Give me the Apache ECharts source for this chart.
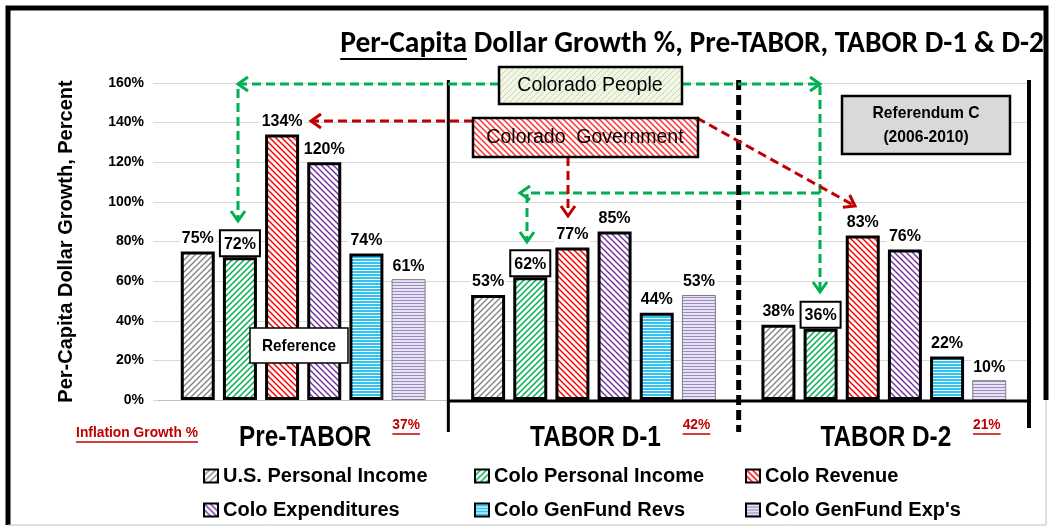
<!DOCTYPE html>
<html>
<head>
<meta charset="utf-8">
<script src="https://cdn.jsdelivr.net/npm/echarts@6/dist/echarts.min.js"></script>
<style>
  html, body { margin: 0; padding: 0; background: #fff; }
  #chart { width: 1053px; height: 527px; }
</style>
</head>
<body>
<div id="chart"></div>
<script>
// data
const categories = ['Pre-TABOR', 'TABOR D-1', 'TABOR D-2'];
const seriesNames = ['U.S. Personal Income', 'Colo Personal Income', 'Colo Revenue',
                     'Colo Expenditures', 'Colo GenFund Revs', "Colo GenFund Exp's"];
const usPersonalIncome   = [75, 53, 38];
const coloPersonalIncome = [72, 62, 36];
const coloRevenue        = [134, 77, 83];
const coloExpenditures   = [120, 85, 76];
const coloGenFundRevs    = [74, 44, 22];
const coloGenFundExps    = [61, 53, 10];
const inflationGrowth    = ['37%', '42%', '21%'];
const yMin = 0, yMax = 160, yStep = 20;

const SANS = "'Liberation Sans', Arial, sans-serif";
const TITLE_FONT = "Carlito, 'Liberation Sans', sans-serif";

// hatch fills
function makePattern(kind, fg, bg, lw) {
  const s = 6;
  const c = document.createElement('canvas');
  c.width = s; c.height = s;
  const ctx = c.getContext('2d');
  ctx.fillStyle = bg;
  ctx.fillRect(0, 0, s, s);
  ctx.strokeStyle = fg;
  ctx.fillStyle = fg;
  ctx.lineWidth = lw;
  ctx.beginPath();
  if (kind === 'fwd') {
    ctx.moveTo(0, s); ctx.lineTo(s, 0);
    ctx.moveTo(-1, 1); ctx.lineTo(1, -1);
    ctx.moveTo(s - 1, s + 1); ctx.lineTo(s + 1, s - 1);
    ctx.stroke();
  } else if (kind === 'back') {
    ctx.moveTo(0, 0); ctx.lineTo(s, s);
    ctx.moveTo(-1, s - 1); ctx.lineTo(1, s + 1);
    ctx.moveTo(s - 1, -1); ctx.lineTo(s + 1, 1);
    ctx.stroke();
  } else if (kind === 'horiz') {
    ctx.fillRect(0, 0, s, lw);
    ctx.fillRect(0, 3, s, lw);
  }
  return { image: c, repeat: 'repeat' };
}

const fills = [
  makePattern('fwd', '#7f7f7f', '#ffffff', 1.3),
  makePattern('fwd', '#00b050', '#ffffff', 1.5),
  makePattern('back', '#ff0000', '#ffffff', 1.5),
  makePattern('back', '#7030a0', '#ffffff', 1.4),
  makePattern('horiz', '#ffffff', '#2ec4f3', 1),
  makePattern('horiz', '#9c88c4', '#e9e4f1', 1)
];
const seriesData = [usPersonalIncome, coloPersonalIncome, coloRevenue,
                    coloExpenditures, coloGenFundRevs, coloGenFundExps];

const chart = echarts.init(document.getElementById('chart'));

const baseLabel = {
  show: true,
  position: 'top',
  distance: 4,
  formatter: '{c}%',
  fontFamily: SANS,
  fontWeight: 'bold',
  fontSize: 16,
  color: '#000',
  backgroundColor: '#fff',
  padding: [1, 2]
};

const series = seriesNames.map((name, i) => ({
  name: name,
  type: 'bar',
  data: seriesData[i],
  barWidth: 34,
  barGap: '24%',
  itemStyle: {
    color: fills[i],
    borderColor: i === 5 ? '#7f7f7f' : '#000',
    borderWidth: i === 5 ? 1 : 3
  },
  label: i === 1
    ? Object.assign({}, baseLabel, { borderColor: '#000', borderWidth: 2, padding: [5, 3, 3, 3], distance: 2 })
    : baseLabel,
  emphasis: { disabled: true }
}));

chart.setOption({
  animation: false,
  grid: { left: 158, right: 24, top: 83, bottom: 127 },
  xAxis: {
    type: 'category',
    data: categories,
    axisLine: { lineStyle: { color: '#bfbfbf', width: 1 } },
    axisTick: { show: false },
    axisLabel: { show: false }
  },
  yAxis: {
    type: 'value',
    min: yMin, max: yMax, interval: yStep,
    name: 'Per-Capita Dollar Growth, Percent',
    nameLocation: 'middle',
    nameGap: 82,
    nameRotate: 90,
    nameTextStyle: { fontFamily: SANS, fontWeight: 'bold', fontSize: 20, color: '#000' },
    axisLine: { show: false },
    axisTick: { show: true, length: 5, lineStyle: { color: '#d9d9d9' } },
    splitLine: { lineStyle: { color: '#d9d9d9', width: 1 } },
    axisLabel: { formatter: '{value}%', fontFamily: SANS, fontWeight: 'bold', fontSize: 14, color: '#000', margin: 14 }
  },
  legend: {
    data: seriesNames,
    left: 198, top: 460, width: 830,
    icon: 'rect',
    itemWidth: 14, itemHeight: 13, itemGap: 12,
    itemStyle: { borderColor: '#000', borderWidth: 2 },
    textStyle: { fontFamily: SANS, fontWeight: 'bold', fontSize: 20, color: '#000', width: 239, lineHeight: 22 },
    selectedMode: false
  },
  series: series
});

// annotations, placed from the axes where they belong to them
const measure = document.createElement('canvas').getContext('2d');
function textWidth(text, font) { measure.font = font; return measure.measureText(text).width; }

const cx = categories.map(c => chart.convertToPixel({ xAxisIndex: 0 }, c));
const half = (cx[1] - cx[0]) / 2;
const y0 = chart.convertToPixel({ yAxisIndex: 0 }, 0);
const yTop = chart.convertToPixel({ yAxisIndex: 0 }, yMax);
const sep1 = cx[0] + half, sep2 = cx[1] + half, sep3 = cx[2] + half;

const green = '#00b050', red = '#c00000';
function line(points, color, width, dash, z) {
  return { type: 'polyline', z: z || 50, shape: { points: points },
           style: { stroke: color, lineWidth: width, lineDash: dash || null, fill: null } };
}
function arrowHead(tip, from, color) {
  const dx = tip[0] - from[0], dy = tip[1] - from[1];
  const len = Math.sqrt(dx * dx + dy * dy);
  const ux = dx / len, uy = dy / len;
  const px = -uy, py = ux;
  return line([[tip[0] - 10 * ux + 7 * px, tip[1] - 10 * uy + 7 * py], tip,
               [tip[0] - 10 * ux - 7 * px, tip[1] - 10 * uy - 7 * py]], color, 3, null, 60);
}
function dashedArrow(from, tip, color) {
  return [line([from, tip], color, 3, [9, 5]), arrowHead(tip, from, color)];
}
function box(x, y, w, h, fill, bw) {
  return { type: 'rect', z: 70, shape: { x: x, y: y, width: w, height: h },
           style: { fill: fill, stroke: '#000', lineWidth: bw } };
}
function label(x, y, text, size, weight, family, color, align, sx) {
  return { type: 'text', z: 80, x: x, y: y, scaleX: sx || 1,
           style: { text: text, fontSize: size, fontWeight: weight, fontFamily: family,
                    fill: color || '#000', align: align || 'center', verticalAlign: 'middle', lineHeight: 24 } };
}

const titleText = 'Per-Capita Dollar Growth %, Pre-TABOR, TABOR D-1 & D-2';
const titleFont = 'bold 29.5px ' + TITLE_FONT;
const titleRight = 1044;
const titleLeft = titleRight - textWidth(titleText, titleFont);
const titleUnder = textWidth('Per-Capita', titleFont);

const infFont = 'bold 15px ' + SANS;
const infScale = 0.92;
const infW = textWidth('Inflation Growth %', infFont) * infScale;

const peopleFill = makePattern('fwd', '#c8dca0', '#f2f6e8', 1);
const govFill = makePattern('back', '#ff3030', '#ffffff', 1.5);

let g = [];
// outer frame
g.push(line([[8, 525], [8, 8], [1046, 8], [1046, 400]], '#000', 5, null, 40));
g.push(line([[1046, 400], [1046, 525], [8, 525]], '#bfbfbf', 1, null, 40));
// period separators and base line
g.push(line([[sep1, yTop - 3], [sep1, y0 + 32]], '#000', 3));
g.push(line([[sep2, yTop - 3], [sep2, y0 + 32]], '#000', 5, [10, 5]));
g.push(line([[sep3, yTop - 3], [sep3, y0 + 28]], '#000', 4));
g.push(line([[sep1, y0 + 1], [sep3, y0 + 1]], '#000', 3));
// period names under the axis
categories.forEach((c, i) => {
  g.push(label(cx[i] + 2, y0 + 38, c, 29, 'bold', SANS, '#000', 'center', 0.84));
});
// title
g.push(label(titleRight, 45, titleText, 29.5, 'bold', TITLE_FONT, '#000', 'right'));
g.push(line([[titleLeft, 59], [titleLeft + titleUnder, 59]], '#000', 2));
// inflation growth labels
g.push(label(137, 433, 'Inflation Growth %', 15, 'bold', SANS, red, 'center', infScale));
g.push(line([[137 - infW / 2, 442], [137 + infW / 2, 442]], red, 1.5));
inflationGrowth.forEach((t, i) => {
  const x = cx[i] + 103;
  const w = textWidth(t, infFont) * infScale;
  g.push(label(x, 425, t, 15, 'bold', SANS, red, 'center', infScale));
  g.push(line([[x - w / 2, 434], [x + w / 2, 434]], red, 1.5));
});
// green "Colorado People" arrows
g.push(line([[499, 84], [238, 84], [238, 221]], green, 3, [9, 5]));
g.push(arrowHead([238, 84], [260, 84], green));
g.push(arrowHead([238, 221], [238, 200], green));
g.push(line([[682, 84], [820, 84], [820, 292]], green, 3, [9, 5]));
g.push(arrowHead([820, 84], [800, 84], green));
g.push(arrowHead([820, 292], [820, 270], green));
g.push(line([[820, 193], [527, 193], [527, 242]], green, 3, [9, 5]));
g.push(arrowHead([520, 193], [540, 193], green));
g.push(arrowHead([527, 242], [527, 220], green));
// red "Colorado Government" arrows
g = g.concat(dashedArrow([473, 121], [311, 121], red));
g = g.concat(dashedArrow([568, 157], [568, 216], red));
g = g.concat(dashedArrow([697, 118], [855, 206], red));
// boxes
g.push(box(499, 67, 183, 37, peopleFill, 2.5));
g.push(label(590, 86, 'Colorado People', 19.5, 'normal', SANS));
g.push(box(473, 118, 225, 39, govFill, 2.5));
g.push(label(585, 138, 'Colorado  Government', 19.5, 'normal', SANS));
g.push(box(842, 96, 168, 58, '#d9d9d9', 2.5));
g.push(label(926, 125, 'Referendum C\n(2006-2010)', 17, 'bold', SANS, '#000', 'center', 0.92));
g.push(box(250, 328, 98, 35, '#ffffff', 1.5));
g.push(label(299, 346, 'Reference', 17, 'bold', SANS, '#000', 'center', 0.9));

chart.setOption({ graphic: { elements: g } });
</script>
</body>
</html>
